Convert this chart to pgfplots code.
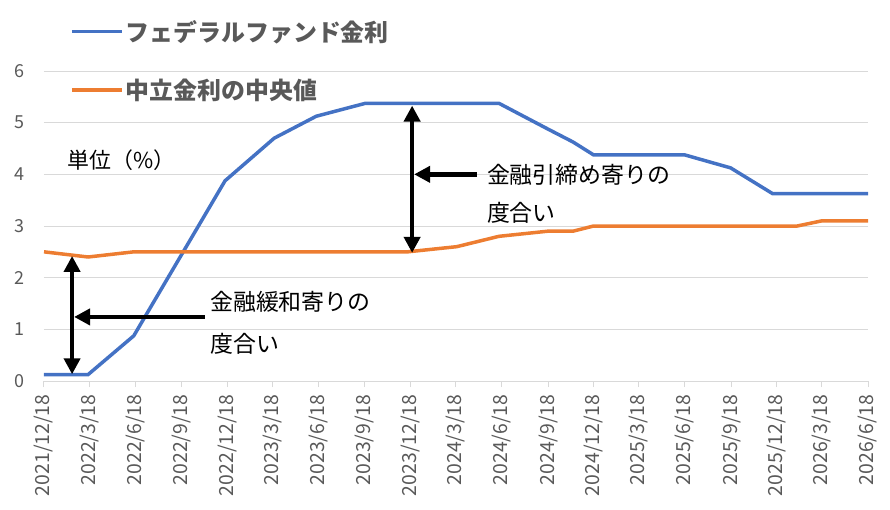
\documentclass[border=0pt]{standalone}
\usepackage{fontspec}
\setmainfont{Noto Sans CJK JP}
\usepackage{pgfplots}
\pgfplotsset{compat=1.18}
\usetikzlibrary{arrows.meta}

\definecolor{fedblue}{HTML}{4472C4}
\definecolor{neutorange}{HTML}{ED7D31}
\definecolor{gridgray}{HTML}{D9D9D9}
\definecolor{labelgray}{HTML}{595959}

% day 0 = 2021/12/18
\pgfplotstableread{
day  rate
0    0.125
88   0.125
179  0.875
361  3.875
459  4.7
543  5.125
641  5.375
907  5.375
1005 4.875
1055 4.625
1096 4.375
1278 4.375
1369 4.125
1411 3.875
1453 3.625
1643 3.625
}\fedfunds

\pgfplotstableread{
day  rate
0    2.5
88   2.4
179  2.5
725  2.5
823  2.6
907  2.8
1005 2.9
1055 2.9
1096 3.0
1502 3.0
1551 3.1
1643 3.1
}\neutral

\tikzset{arr/.style={line width=4.5bp, >={Triangle[length=16bp,width=16bp]}}}

\begin{document}
\begin{tikzpicture}
\useasboundingbox (-44bp,-129bp) rectangle (846bp,381bp);
\begin{axis}[
    scale only axis,
    width=824bp, height=310bp,
    xmin=0, xmax=1643,
    ymin=0, ymax=6,
    axis lines*=left,
    x axis line style={-, gridgray, line width=1bp},
    y axis line style={draw=none},
    ytick={0,1,...,6},
    ymajorgrids,
    grid style={gridgray, line width=1bp},
    xtick={0,90,182,274,365,455,547,639,730,821,913,1005,1096,1186,1278,1370,1461,1551,1643},
    xticklabels={2021/12/18,2022/3/18,2022/6/18,2022/9/18,2022/12/18,2023/3/18,2023/6/18,2023/9/18,2023/12/18,2024/3/18,2024/6/18,2024/9/18,2024/12/18,2025/3/18,2025/6/18,2025/9/18,2025/12/18,2026/3/18,2026/6/18},
    tick align=outside,
    major tick length=6bp,
    xtick style={gridgray, line width=1bp},
    ytick style={draw=none},
    x tick label style={rotate=90, anchor=east, font=\fontsize{19.5}{19.5}\selectfont, text=labelgray},
    xticklabel shift=4bp,
    y tick label style={font=\fontsize{18}{18}\selectfont, text=labelgray, xshift=-10bp},
    /pgf/number format/assume math mode=true,
    legend style={at={(0.0316,1.17)}, anchor=north west, draw=none, fill=none,
        inner sep=0pt, row sep=32bp,
        font=\fontsize{24}{24}\bfseries\selectfont, text=labelgray},
    legend cell align=left,
    legend image code/.code={\draw[#1] (0bp,0bp) -- (50bp,0bp);},
    /tikz/every even column/.append style={column sep=8bp},
]
\addplot[fedblue, line width=3.5bp] table[x=day, y=rate] {\fedfunds};
\addlegendentry{フェデラルファンド金利}
\addplot[neutorange, line width=3.5bp] table[x=day, y=rate] {\neutral};
\addlegendentry{中立金利の中央値}

% tightening gap
\draw[arr, <->] (axis cs:734,5.33) -- (axis cs:734,2.48);
\draw[arr, ->] (axis cs:863,4.0) -- (axis cs:738,4.0);
\node[anchor=west, inner sep=0pt, font=\fontsize{23}{23}\selectfont] at (axis cs:883,4.0) {金融引締め寄りの};
\node[anchor=west, inner sep=0pt, font=\fontsize{23}{23}\selectfont] at (axis cs:883,3.25) {度合い};

% easing gap
\draw[arr, <->] (axis cs:56,2.42) -- (axis cs:56,0.13);
\draw[arr, ->] (axis cs:321,1.24) -- (axis cs:60,1.24);
\node[anchor=west, inner sep=0pt, font=\fontsize{23}{23}\selectfont] at (axis cs:331,1.53) {金融緩和寄りの};
\node[anchor=west, inner sep=0pt, font=\fontsize{23}{23}\selectfont] at (axis cs:331,0.72) {度合い};

\node[anchor=west, inner sep=0pt, font=\fontsize{22}{22}\selectfont] at (axis cs:46,4.27) {単位（\%）};
\end{axis}
\end{tikzpicture}
\end{document}
